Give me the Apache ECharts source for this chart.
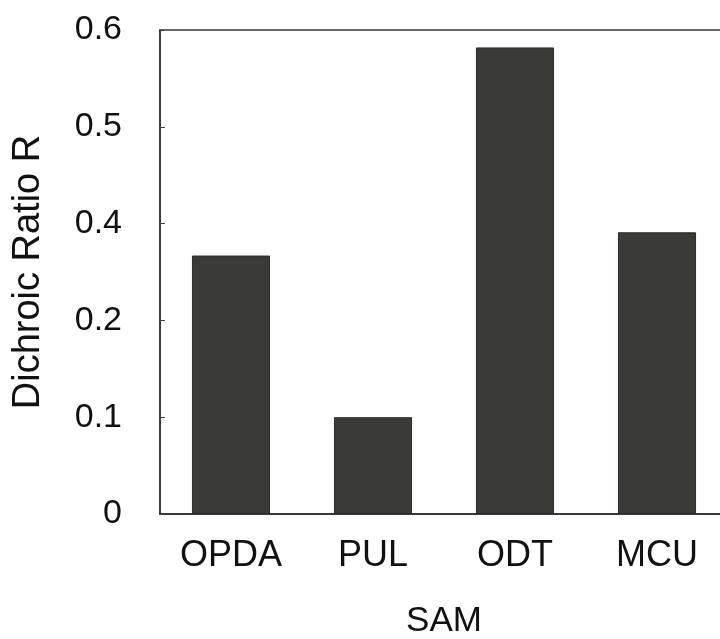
<!DOCTYPE html>
<html>
<head>
<meta charset="utf-8">
<script src="https://cdn.jsdelivr.net/npm/echarts@6/dist/echarts.min.js"></script>
<style>
html,body{margin:0;padding:0;background:#fff;}
#chart{width:720px;height:639px;}
</style>
</head>
<body>
<div id="chart"></div>
<script>
// Data (value per axis interval of 0.1)
const categories = ['OPDA', 'PUL', 'ODT', 'MCU'];
const ratioValues = [0.267, 0.100, 0.482, 0.291];
// Tick labels exactly as printed on the reference y axis (six ticks, evenly spaced)
const yTickLabels = ['0', '0.1', '0.2', '0.4', '0.5', '0.6'];

const chart = echarts.init(document.getElementById('chart'));
const FONT = 'Liberation Sans, Arial, Helvetica, sans-serif';

chart.setOption({
  animation: false,
  backgroundColor: '#ffffff',
  grid: {
    left: 160, top: 30, bottom: 125, right: -8,
    outerBoundsMode: 'none', containLabel: false,
    show: true, borderColor: '#3a3a3a', borderWidth: 1.5, backgroundColor: 'transparent'
  },
  xAxis: {
    type: 'category',
    data: categories,
    name: 'SAM',
    nameLocation: 'middle',
    nameGap: 90,
    nameTextStyle: { fontFamily: FONT, fontSize: 35, color: '#111' },
    axisLine: { show: true, lineStyle: { color: '#2a2a2a', width: 1.5 } },
    axisTick: { show: false },
    axisLabel: { fontFamily: FONT, fontSize: 36, color: '#111', margin: 24 }
  },
  yAxis: {
    type: 'value',
    min: 0, max: 0.5, interval: 0.1,
    name: 'Dichroic Ratio R',
    nameLocation: 'middle',
    nameRotate: 90,
    nameGap: 112,
    nameTextStyle: { fontFamily: FONT, fontSize: 38, color: '#111' },
    axisLine: { show: true, lineStyle: { color: '#2a2a2a', width: 1.5 } },
    axisTick: { show: true, inside: true, length: 5, lineStyle: { color: '#444', width: 1 } },
    splitLine: { show: false },
    axisLabel: {
      fontFamily: FONT, fontSize: 34, color: '#111', margin: 38,
      formatter: function (v) { return yTickLabels[Math.round(v * 10)]; }
    }
  },
  series: [{
    type: 'bar',
    data: ratioValues,
    barWidth: '55%',
    itemStyle: { color: '#3a3a37', borderColor: '#2a2a28', borderWidth: 1 }
  }]
});
</script>
</body>
</html>
